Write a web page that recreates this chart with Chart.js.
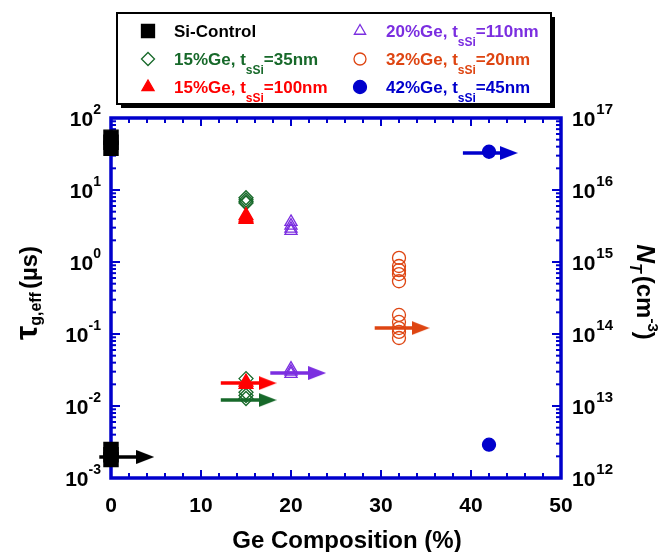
<!DOCTYPE html>
<html>
<head>
<meta charset="utf-8">
<script src="https://cdn.jsdelivr.net/npm/chart.js"></script>
<style>
  html, body { margin: 0; padding: 0; background: #fff; }
  #wrap { width: 660px; height: 552px; }
</style>
</head>
<body>
<div id="wrap"><canvas id="chart" width="660" height="552"></canvas></div>
<script>
// values (tau in us on the left axis, N_T in cm^-3 on the right axis)
const geX = [0, 15, 15, 20, 32, 42];
const siTau = [54, 46, 38];
const siNt = [2.5e12, 2.1e12, 1.8e12];
const ge15aTau = [7.8, 7.3, 6.9, 6.6];
const ge15aNt = [2.4e13, 1.55e13, 1.4e13, 1.27e13];
const ge15bTau = [4.4, 4.1, 3.9];
const ge15bNt = [2.15e13, 2.0e13];
const ge20Tau = [3.6, 3.2, 2.9, 2.7];
const ge20Nt = [3.3e13, 3.0e13, 2.8e13];
const ge32Tau = [1.14, 0.88, 0.77, 0.68, 0.54];
const ge32Nt = [1.84e14, 1.47e14, 1.21e14, 1.07e14, 8.8e13];
const ge42Tau = [0.0029];
const ge42Nt = [3.4e16];

// arrows pointing at the right axis
const arrowY = [1.96e12, 1.21e13, 2.08e13, 2.87e13, 1.21e14, 3.27e16];
const arrowFrom = [-1.3, 12.2, 12.2, 17.7, 29.3, 39.1];
const arrowTo = [3.8, 17.4, 17.4, 22.9, 34.4, 44.2];

const xTicks = [0, 10, 20, 30, 40, 50];
const tauExp = [-3, -2, -1, 0, 1, 2];
const ntExp = [12, 13, 14, 15, 16, 17];

const legendNames = [
  ['Si-Control', '', ''],
  ['15%Ge, t', 'sSi', '=35nm'],
  ['15%Ge, t', 'sSi', '=100nm'],
  ['20%Ge, t', 'sSi', '=110nm'],
  ['32%Ge, t', 'sSi', '=20nm'],
  ['42%Ge, t', 'sSi', '=45nm']
];

const colors = ['#000000', '#17692a', '#ff0000', '#7b2ee0', '#de4512', '#0000cc'];
const shapes = ['rect', 'rectRot', 'triangle', 'triangle', 'circle', 'circle'];
const filled = [true, false, true, false, false, true];
const sizes = [10, 7, 8, 7, 6.5, 6.5];
const axisBlue = '#0000cc';
const FF = '"Liberation Sans", Arial, Helvetica, sans-serif';

const tauSets = [siTau, ge15aTau, ge15bTau, ge20Tau, ge32Tau, ge42Tau];
const ntSets = [siNt, ge15aNt, ge15bNt, ge20Nt, ge32Nt, ge42Nt];

function makeHead(color) {
  const c = document.createElement('canvas');
  c.width = 18; c.height = 14;
  const g = c.getContext('2d');
  g.fillStyle = color;
  g.beginPath();
  g.moveTo(0, 0); g.lineTo(18, 7); g.lineTo(0, 14);
  g.closePath();
  g.fill();
  return c;
}

const datasets = [];
// arrows first so they sit on top
for (let i = 0; i < 6; i++) {
  datasets.push({
    data: [{x: arrowFrom[i], y: arrowY[i]}, {x: arrowTo[i], y: arrowY[i]}],
    yAxisID: 'y2',
    showLine: true,
    borderColor: colors[i],
    borderWidth: 3.5,
    pointStyle: makeHead(colors[i]),
    pointRadius: [0, 9],
    clip: false
  });
}
// red drawn above green
[0, 2, 1, 3, 4, 5].forEach(i => {
  const common = {
    pointStyle: shapes[i],
    pointRadius: sizes[i],
    borderColor: colors[i],
    backgroundColor: filled[i] ? colors[i] : 'rgba(0,0,0,0)',
    pointBorderWidth: 1.3,
    clip: false
  };
  datasets.push(Object.assign({
    data: tauSets[i].map(v => ({x: geX[i], y: v})),
    yAxisID: 'y'
  }, common));
  datasets.push(Object.assign({
    data: ntSets[i].map(v => ({x: geX[i], y: v})),
    yAxisID: 'y2'
  }, common));
});

function line(ctx, x1, y1, x2, y2) {
  ctx.beginPath(); ctx.moveTo(x1, y1); ctx.lineTo(x2, y2); ctx.stroke();
}

// draws a run of [text, font, dy] pieces
function runs(ctx, parts, x, y, align) {
  let w = 0;
  parts.forEach(p => { ctx.font = p[1]; w += ctx.measureText(p[0]).width + (p[3] || 0); });
  let cx = align === 'right' ? x - w : align === 'center' ? x - w / 2 : x;
  parts.forEach(p => {
    ctx.font = p[1];
    ctx.fillText(p[0], cx, y + (p[2] || 0));
    cx += ctx.measureText(p[0]).width + (p[3] || 0);
  });
}

const frame = {
  id: 'frame',
  beforeDatasetsDraw(chart) {
    const {ctx, chartArea: a} = chart;
    const {x, y, y2} = chart.scales;
    ctx.save();
    ctx.strokeStyle = axisBlue;
    ctx.lineWidth = 2;
    for (let v = xTicks[0]; v <= xTicks[xTicks.length - 1]; v += 2) {
      const px = x.getPixelForValue(v);
      const len = xTicks.includes(v) ? 8 : 5;
      line(ctx, px, a.bottom, px, a.bottom - len);
      line(ctx, px, a.top, px, a.top + len);
    }
    const logTicks = (scale, exps, x0, dir) => {
      for (let k = 0; k < exps.length; k++) {
        for (let m = 1; m <= 9; m++) {
          if (k === exps.length - 1 && m > 1) break;
          const py = scale.getPixelForValue(m * Math.pow(10, exps[k]));
          const len = m === 1 ? 9 : 5;
          line(ctx, x0, py, x0 + dir * len, py);
        }
      }
    };
    logTicks(y, tauExp, a.left, 1);
    logTicks(y2, ntExp, a.right, -1);
    ctx.lineWidth = 3.5;
    ctx.strokeRect(a.left, a.top, a.right - a.left, a.bottom - a.top);
    ctx.restore();
  }
};

const labels = {
  id: 'labels',
  afterDraw(chart) {
    const {ctx} = chart;
    const {x, y, y2} = chart.scales;
    ctx.save();
    ctx.fillStyle = '#000';
    ctx.textBaseline = 'alphabetic';
    ctx.textAlign = 'left';
    // x tick labels
    xTicks.forEach(v => {
      runs(ctx, [[String(v), 'bold 21px ' + FF]], x.getPixelForValue(v), 512, 'center');
    });
    // left ticks
    tauExp.forEach(e => {
      const py = y.getPixelForValue(Math.pow(10, e));
      runs(ctx, [['10', 'bold 21px ' + FF], [String(e), 'bold 14px ' + FF, -11.5]], 101, py + 7.5, 'right');
    });
    // right ticks
    ntExp.forEach(e => {
      const py = y2.getPixelForValue(Math.pow(10, e));
      runs(ctx, [['10', 'bold 21px ' + FF, 0, 1], [String(e), 'bold 15px ' + FF, -12]], 572, py + 7.5, 'left');
    });
    // x title
    runs(ctx, [['Ge Composition (%)', 'bold 24px ' + FF]], 347, 548, 'center');
    // left title
    ctx.save();
    ctx.translate(37, 293);
    ctx.rotate(-Math.PI / 2);
    runs(ctx, [['τ', 'bold 32px ' + FF], ['g,eff', 'bold 16px ' + FF, 4, 3], ['(µs)', 'bold 24px ' + FF]], 0, 0, 'center');
    ctx.restore();
    // right title
    ctx.save();
    ctx.translate(637, 292);
    ctx.rotate(Math.PI / 2);
    runs(ctx, [['N', 'italic bold 26px ' + FF], ['T', 'italic bold 16px ' + FF, 7, 3], ['(cm', 'bold 24px ' + FF], ['-3', 'bold 15px ' + FF, -11], [')', 'bold 24px ' + FF]], 0, 0, 'center');
    ctx.restore();

    // legend box with shadow
    const bx = 117, by = 13, bw = 434, bh = 91;
    ctx.fillStyle = '#000';
    ctx.fillRect(bx + 4, by + 4, bw, bh);
    ctx.fillStyle = '#fff';
    ctx.fillRect(bx, by, bw, bh);
    ctx.strokeStyle = '#000';
    ctx.lineWidth = 2;
    ctx.strokeRect(bx, by, bw, bh);

    const legR = [9.2, 6.5, 7, 6.5, 6, 6.5];
    legendNames.forEach((n, i) => {
      const col = i < 3 ? 0 : 1;
      const row = i % 3;
      const mx = col ? 360 : 148;
      const tx = col ? 386 : 174;
      const base = 37 + row * 28;
      ctx.fillStyle = filled[i] ? colors[i] : 'rgba(0,0,0,0)';
      ctx.strokeStyle = colors[i];
      ctx.lineWidth = 1.3;
      Chart.helpers.drawPoint(ctx, {pointStyle: shapes[i], radius: legR[i], rotation: 0, borderWidth: 1.3}, mx, base - 6);
      ctx.fillStyle = colors[i];
      const parts = [[n[0], 'bold 17px ' + FF]];
      if (n[1]) {
        parts.push([n[1], 'bold 12px ' + FF, 9]);
        parts.push([n[2], 'bold 17px ' + FF]);
      }
      runs(ctx, parts, tx, base, 'left');
    });
    ctx.restore();
  }
};

new Chart(document.getElementById('chart'), {
  type: 'scatter',
  data: { datasets: datasets },
  options: {
    responsive: false,
    animation: false,
    events: [],
    layout: { padding: { left: 111, right: 99, top: 118, bottom: 74 } },
    plugins: { legend: { display: false }, tooltip: { enabled: false } },
    scales: {
      x: { type: 'linear', min: 0, max: 50, display: false },
      y: { type: 'logarithmic', min: 1e-3, max: 1e2, display: false },
      y2: { type: 'logarithmic', min: 1e12, max: 1e17, display: false, position: 'right' }
    }
  },
  plugins: [frame, labels]
});
</script>
</body>
</html>
